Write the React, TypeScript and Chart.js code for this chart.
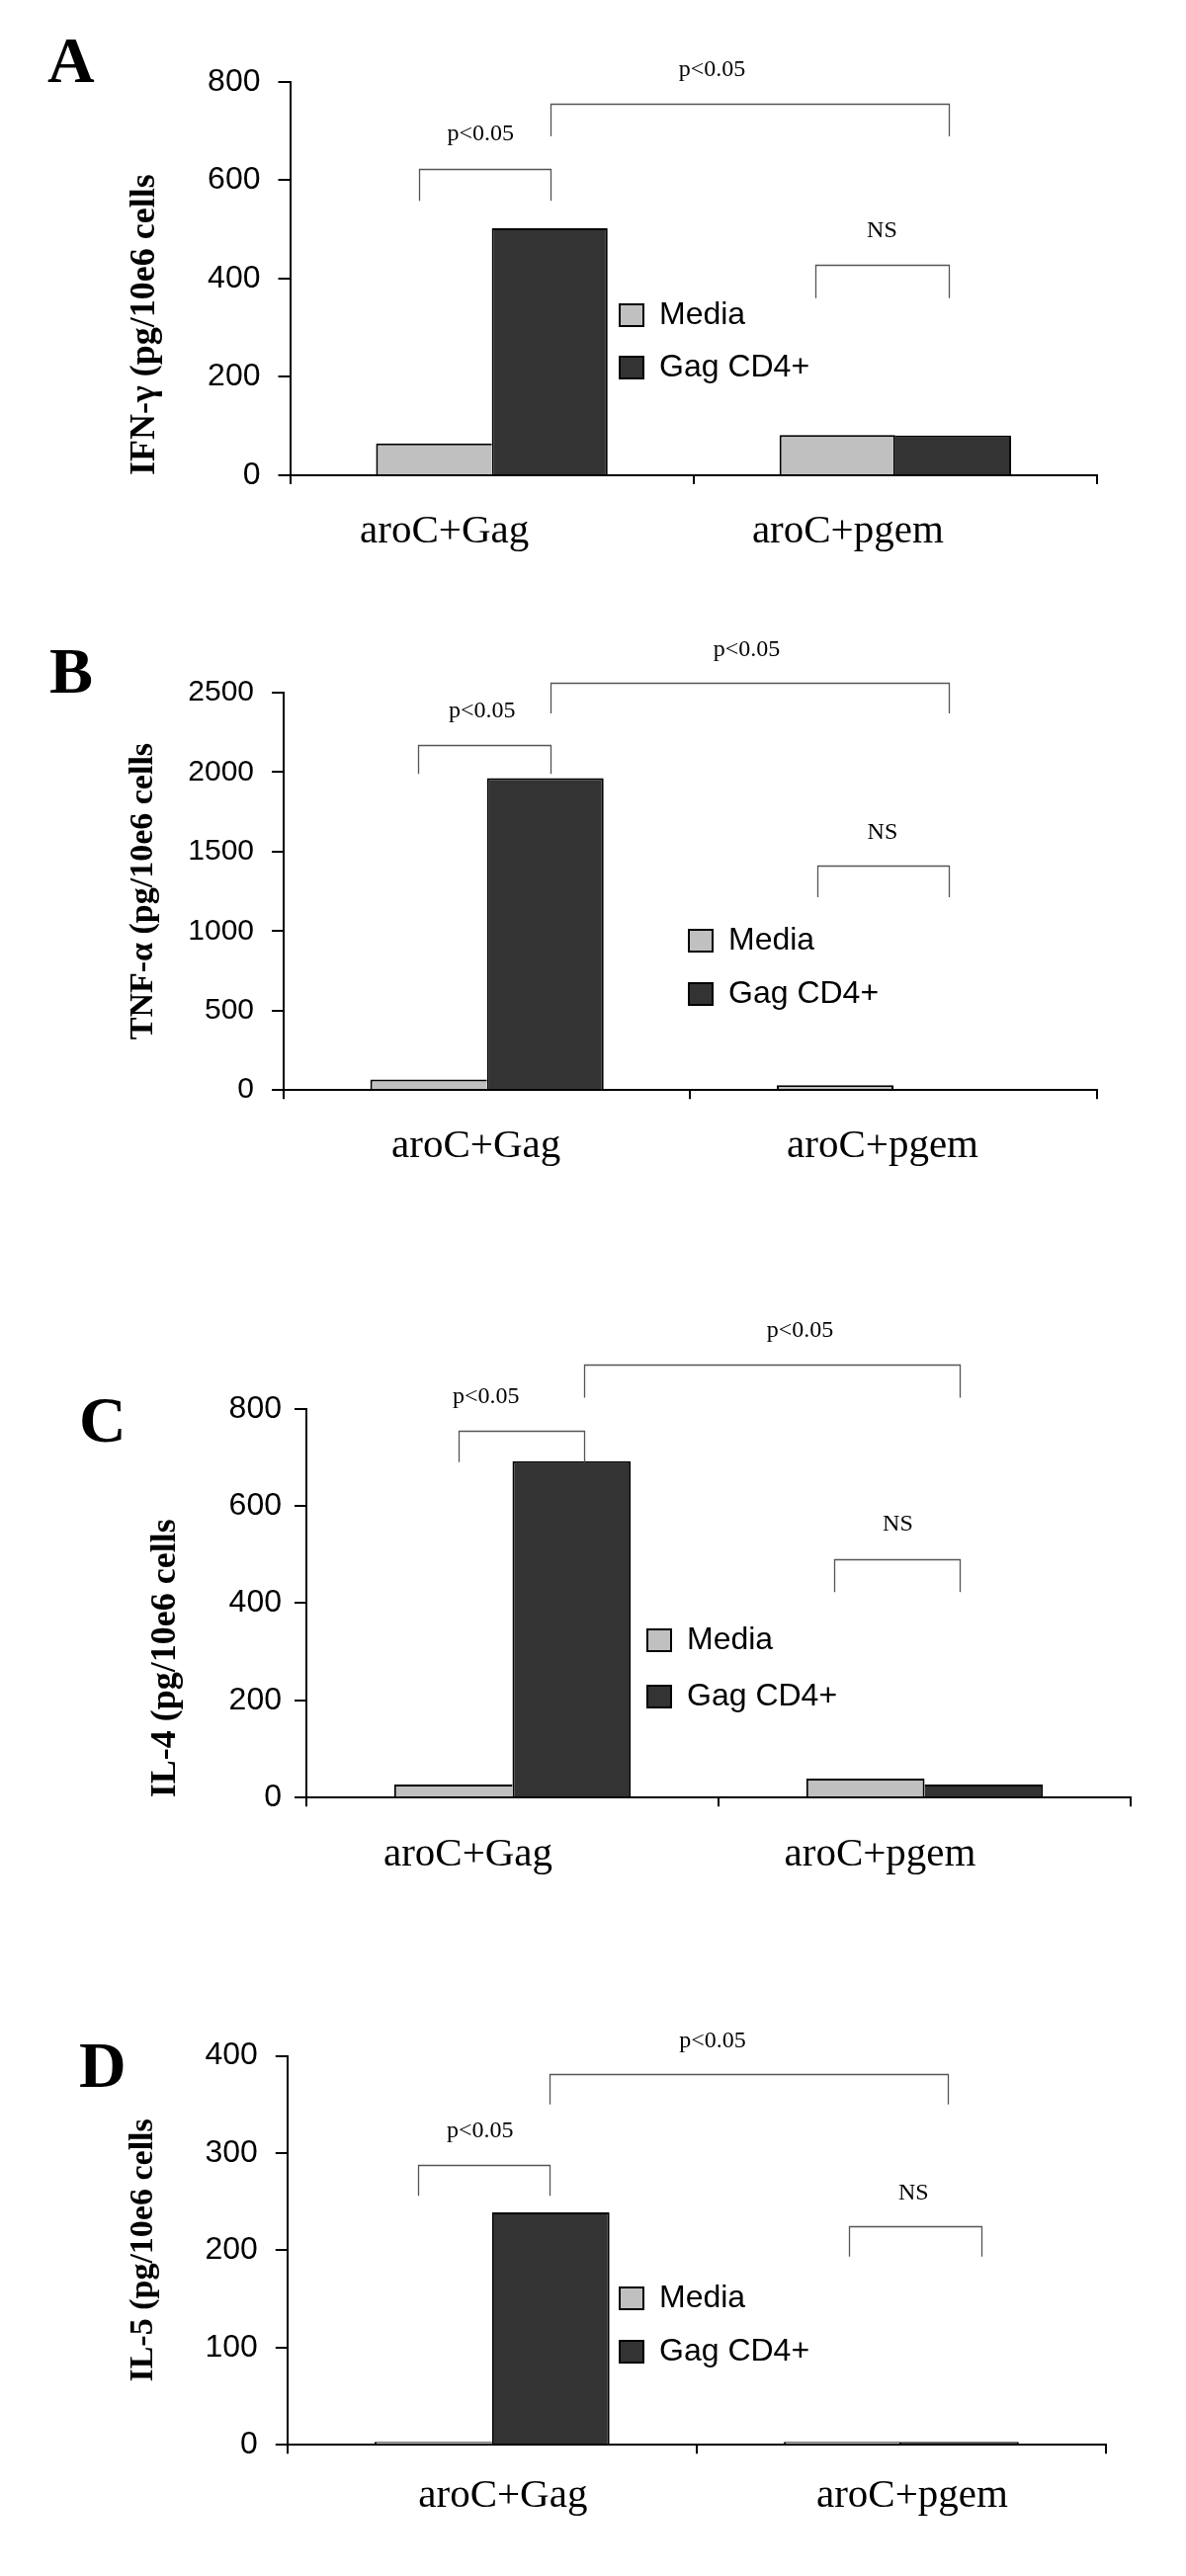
import React, { useEffect, useRef } from "react";
import { Chart, registerables } from "chart.js";

Chart.register(...registerables);

// ---------- data ----------
const categories = ["aroC+Gag", "aroC+pgem"];
const seriesNames = ["Media", "Gag CD4+"];

const ifnMedia = [65, 82];
const ifnGag = [502, 81];
const tnfMedia = [66, 31];
const tnfGag = [1963, 0];
const il4Media = [27, 39];
const il4Gag = [692, 27];
const il5Media = [3, 3];
const il5Gag = [239, 3];

// y axis: [min, max, step]
const ifnAxis = [0, 800, 200];
const tnfAxis = [0, 2500, 500];
const il4Axis = [0, 800, 200];
const il5Axis = [0, 400, 100];

const axisTitles = [
  "IFN-\u03b3 (pg/10e6 cells",
  "TNF-\u03b1 (pg/10e6 cells",
  "IL-4 (pg/10e6 cells",
  "IL-5 (pg/10e6 cells",
];
const panelLetters = ["A", "B", "C", "D"];

// significance brackets: [x1, x2, top, legBottom, label, labelX, labelY] (category index / data units)
const ifnSig: [number, number, number, number, string, number, number][] = [
  [-0.18, 0.146, 623, 558, "p<0.05", -0.028, 681],
  [0.146, 1.132, 755, 689, "p<0.05", 0.546, 811],
  [0.802, 1.132, 428, 360, "NS", 0.967, 484],
];
const tnfSig: [number, number, number, number, string, number, number][] = [
  [-0.169, 0.156, 2173, 1988, "p<0.05", -0.012, 2344],
  [0.156, 1.137, 2562, 2369, "p<0.05", 0.639, 2728],
  [0.812, 1.137, 1411, 1214, "NS", 0.973, 1578],
];
const il4Sig: [number, number, number, number, string, number, number][] = [
  [-0.13, 0.173, 755, 690, "p<0.05", -0.064, 811],
  [0.173, 1.084, 890, 823, "p<0.05", 0.698, 948],
  [0.781, 1.084, 490, 423, "NS", 0.935, 549],
];
const il5Sig: [number, number, number, number, string, number, number][] = [
  [-0.181, 0.141, 288, 256, "p<0.05", -0.029, 316],
  [0.141, 1.114, 381.5, 350, "p<0.05", 0.539, 409],
  [0.871, 1.195, 225, 193.5, "NS", 1.03, 252.5],
];

// ---------- styles / layout ----------
const SERIF = "'Liberation Serif', 'Times New Roman', serif";
const SANS = "'Liberation Sans', Arial, sans-serif";
const MEDIA_COLOR = "#c0c0c0";
const GAG_COLOR = "#333333";
const X_AXIS_H = 100;

type PanelCfg = {
  media: number[];
  gag: number[];
  axis: number[];
  sig: [number, number, number, number, string, number, number][];
  title: string;
  letter: string;
  height: number;
  area: { left: number; top: number; right: number; bottom: number };
  letterPos: [number, number];
  legendPos: [number, number, number]; // box left, first item centre y, gap
  titleSize: number;
  titleCenterX: number;
  titleAlign: "start" | "center" | "end";
  yTickSize: number;
  yTickPad: number;
  xLabelPad: number;
  xLabelOffset: number;
};

const panels: PanelCfg[] = [
  {
    media: ifnMedia, gag: ifnGag, axis: ifnAxis, sig: ifnSig, title: axisTitles[0], letter: panelLetters[0],
    height: 620, area: { left: 293.5, top: 82.7, right: 1110, bottom: 481 },
    letterPos: [48, 83], legendPos: [627, 319, 21], titleSize: 36, titleCenterX: 147, titleAlign: "start",
    yTickSize: 32, yTickPad: 18, xLabelPad: 23.6, xLabelOffset: -48,
  },
  {
    media: tnfMedia, gag: tnfGag, axis: tnfAxis, sig: tnfSig, title: axisTitles[1], letter: panelLetters[1],
    height: 680, area: { left: 287, top: 81, right: 1109.7, bottom: 483.2 },
    letterPos: [50, 81], legendPos: [697, 332, 22], titleSize: 34, titleCenterX: 145, titleAlign: "center",
    yTickSize: 30, yTickPad: 18, xLabelPad: 23, xLabelOffset: -11,
  },
  {
    media: il4Media, gag: il4Gag, axis: il4Axis, sig: il4Sig, title: axisTitles[2], letter: panelLetters[2],
    height: 680, area: { left: 310, top: 125.7, right: 1144, bottom: 519.2 },
    letterPos: [80, 159], legendPos: [655, 360, 25], titleSize: 36, titleCenterX: 168, titleAlign: "start",
    yTickSize: 32, yTickPad: 13, xLabelPad: 24.6, xLabelOffset: -45,
  },
  {
    media: il5Media, gag: il5Gag, axis: il5Axis, sig: il5Sig, title: axisTitles[3], letter: panelLetters[3],
    height: 627, area: { left: 290.8, top: 100.5, right: 1119, bottom: 494.3 },
    letterPos: [80, 132], legendPos: [627, 346, 22], titleSize: 34, titleCenterX: 145, titleAlign: "center",
    yTickSize: 32, yTickPad: 18, xLabelPad: 18.6, xLabelOffset: 11,
  },
];

function Panel({ p }: { p: PanelCfg }) {
  const ref = useRef<HTMLCanvasElement>(null);

  useEffect(() => {
    const canvas = ref.current!;
    const legendFontSize = 32;

    const annotPlugin = {
      id: "annot" + p.letter,
      afterLayout(chart: any) {
        const lg = chart.legend;
        if (!lg) return;
        const [bx, cy, gap] = p.legendPos;
        lg.left = bx - gap;
        lg.top = cy - legendFontSize / 2 - gap;
        lg.bottom = chart.height;
        lg.right = chart.width;
      },
      afterDraw(chart: any) {
        const ctx = chart.ctx as CanvasRenderingContext2D;
        const xs = chart.scales.x;
        const ys = chart.scales.y;
        ctx.save();
        // brackets
        ctx.strokeStyle = "#555555";
        ctx.lineWidth = 1.3;
        ctx.fillStyle = "#000";
        ctx.font = `24px ${SERIF}`;
        ctx.textAlign = "center";
        ctx.textBaseline = "alphabetic";
        p.sig.forEach(([x1, x2, top, leg, label, lx, ly]) => {
          const px1 = Math.round(xs.getPixelForValue(x1)) + 0.5;
          const px2 = Math.round(xs.getPixelForValue(x2)) + 0.5;
          const pt = Math.round(ys.getPixelForValue(top)) + 0.5;
          const pl = ys.getPixelForValue(leg);
          ctx.beginPath();
          ctx.moveTo(px1, pl);
          ctx.lineTo(px1, pt);
          ctx.lineTo(px2, pt);
          ctx.lineTo(px2, pl);
          ctx.stroke();
          ctx.fillText(label, xs.getPixelForValue(lx), ys.getPixelForValue(ly));
        });
        // panel letter
        ctx.font = `bold 66px ${SERIF}`;
        ctx.textAlign = "left";
        ctx.fillText(p.letter, p.letterPos[0], p.letterPos[1]);
        ctx.restore();
      },
    };

    const mediaBorder = (c: any) => {
      const i = c.dataIndex ?? 0;
      const shared = p.media[i] >= p.gag[i] ? 2 : 0;
      return { top: 2, left: 2, right: shared, bottom: 0 };
    };
    const gagBorder = (c: any) => {
      const i = c.dataIndex ?? 0;
      const shared = p.gag[i] > p.media[i] ? 2 : 0;
      return { top: 2, left: shared, right: 2, bottom: 0 };
    };

    const lyt = {
      top: p.area.top,
      left: 0,
      right: 1200 - p.area.right,
      bottom: p.height - p.area.bottom - X_AXIS_H,
    };

    const chart = new Chart(canvas, {
      type: "bar",
      data: {
        labels: categories,
        datasets: [
          {
            label: seriesNames[0],
            data: p.media,
            backgroundColor: MEDIA_COLOR,
            borderColor: "#000",
            borderWidth: mediaBorder as any,
            categoryPercentage: 0.574,
            barPercentage: 1.0,
          },
          {
            label: seriesNames[1],
            data: p.gag,
            backgroundColor: GAG_COLOR,
            borderColor: "#000",
            borderWidth: gagBorder as any,
            categoryPercentage: 0.574,
            barPercentage: 1.0,
          },
        ],
      },
      options: {
        animation: false,
        responsive: false,
        devicePixelRatio: 1,
        layout: { padding: lyt },
        plugins: {
          tooltip: { enabled: false },
          title: { display: false },
          legend: {
            position: "chartArea" as any,
            align: "start",
            labels: {
              boxWidth: 24,
              boxHeight: 22,
              padding: p.legendPos[2],
              color: "#000",
              font: { family: SANS, size: legendFontSize },
              generateLabels: (ch: any) =>
                Chart.defaults.plugins.legend.labels
                  .generateLabels(ch)
                  .map((it: any) => ({ ...it, lineWidth: 2, strokeStyle: "#000" })),
            },
          },
        },
        scales: {
          x: {
            type: "category",
            offset: true,
            grid: {
              offset: true,
              drawOnChartArea: false,
              drawTicks: true,
              tickLength: 9,
              color: "#000",
              lineWidth: 2,
            },
            border: { display: true, color: "#000", width: 2 },
            ticks: {
              color: "#000",
              font: { family: SERIF, size: 41 },
              padding: p.xLabelPad,
              labelOffset: p.xLabelOffset,
              maxRotation: 0,
              minRotation: 0,
              autoSkip: false,
            },
            afterFit: (s: any) => {
              s.height = X_AXIS_H;
            },
          },
          y: {
            min: p.axis[0],
            max: p.axis[1],
            grid: {
              drawOnChartArea: false,
              drawTicks: true,
              tickLength: 12,
              color: "#000",
              lineWidth: 2,
            },
            border: { display: true, color: "#000", width: 2 },
            ticks: {
              stepSize: p.axis[2],
              color: "#000",
              font: { family: SANS, size: p.yTickSize },
              padding: p.yTickPad,
              callback: (v: any) => String(v),
            },
            title: {
              display: true,
              text: p.title,
              color: "#000",
              align: p.titleAlign,
              font: { family: SERIF, size: p.titleSize, weight: "bold" },
              padding: { top: p.titleCenterX - (p.titleSize * 1.2) / 2, bottom: 0 },
            },
            afterFit: (s: any) => {
              s.width = p.area.left;
            },
          },
        },
      },
      plugins: [annotPlugin],
    } as any);

    return () => chart.destroy();
  }, [p]);

  return (
    <canvas
      ref={ref}
      width={1200}
      height={p.height}
      style={{ display: "block", width: 1200, height: p.height }}
    />
  );
}

export default function App() {
  return (
    <div
      style={{
        position: "absolute",
        left: 0,
        top: 0,
        width: 1200,
        height: 2607,
        background: "#fff",
      }}
    >
      {panels.map((p) => (
        <Panel key={p.letter} p={p} />
      ))}
    </div>
  );
}
